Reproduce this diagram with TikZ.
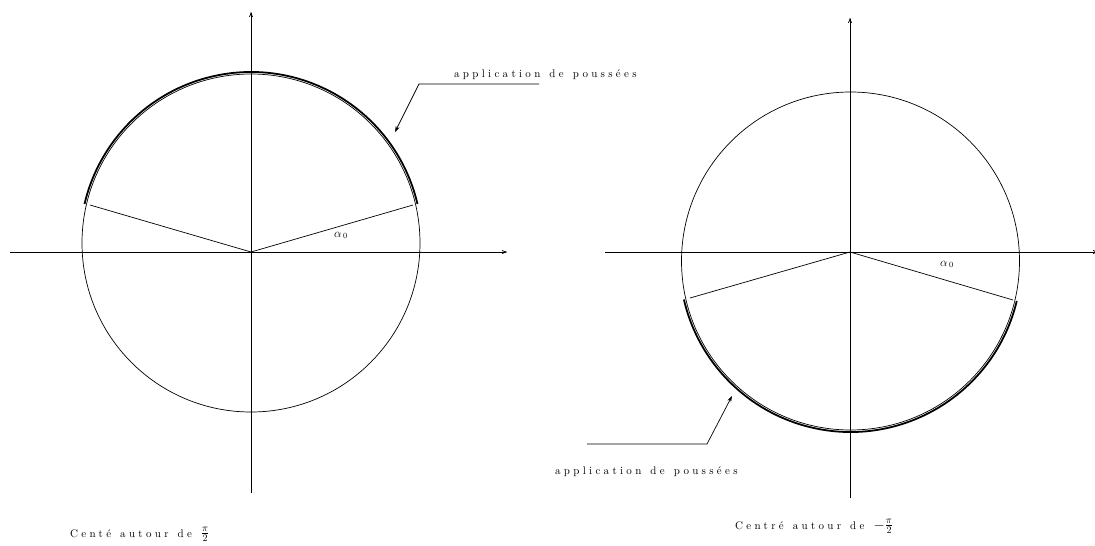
\documentclass[tikz,border=0pt]{standalone}
\usepackage{fontspec}
\newfontfamily\spfont{lmroman10-regular}[Extension=.otf,LetterSpace=30,WordSpace=1.3]
\usetikzlibrary{arrows.meta}
\tikzset{
  axis/.style={line width=0.7pt,-{To[length=5pt,width=4pt]}},
  thin/.style={line width=0.7pt},
  thickarc/.style={line width=1.8pt},
  lbl/.style={inner sep=0pt,font=\spfont\fontsize{11}{13}\selectfont},
  leader/.style={line width=0.7pt,-{Stealth[length=6pt,width=4pt]}}
}
\newcommand\bigfrac[1]{{\fontsize{14}{16}\selectfont$#1$}}
\begin{document}
\begin{tikzpicture}[x=1pt,y=-1pt]
\useasboundingbox (0,0) rectangle (1095,546);
% ---------- left diagram ----------
\coordinate (O1) at (251,252);
\coordinate (C1) at (251,243);
\draw[thin] (C1) circle (169);
\draw[thickarc] ([shift={(-13.2:171)}]C1) arc[start angle=-13.2,end angle=-166.8,radius=171];
\coordinate (P1r) at (413,205);
\coordinate (P1l) at (90,205);
\draw[thin] (P1l) -- (O1) -- (P1r);
\coordinate (X1a) at (10,252);
\coordinate (X1b) at (507,252);
\coordinate (Y1a) at (251,493);
\coordinate (Y1b) at (251,12);
\draw[axis] (X1a) -- (X1b);
\draw[axis] (Y1a) -- (Y1b);
\node[lbl,anchor=base west,font=\fontsize{12}{14}\selectfont] (a1) at (334,237) {$\alpha_{\,0}$};
\node[lbl,anchor=base west] (t1) at (454,77) {application de poussées};
\coordinate (L1a) at (539,84);
\coordinate (L1b) at (419,84);
\coordinate (L1c) at (395,132);
\draw[leader] (L1a) -- (L1b) -- (L1c);
\node[lbl,anchor=base west] (c1) at (70,537) {Centé autour de \bigfrac{\frac{\pi}{2}}};
% ---------- right diagram ----------
\coordinate (O2) at (850,252);
\coordinate (C2) at (850.5,261);
\draw[thin] (C2) circle (169);
\draw[thickarc] ([shift={(13.5:171)}]C2) arc[start angle=13.5,end angle=167,radius=171];
\coordinate (P2r) at (1013,300);
\coordinate (P2l) at (690,298);
\draw[thin] (P2l) -- (O2) -- (P2r);
\coordinate (X2a) at (605,252);
\coordinate (X2b) at (1098,252);
\coordinate (Y2a) at (850,498);
\coordinate (Y2b) at (850,18);
\draw[axis] (X2a) -- (X2b);
\draw[axis] (Y2a) -- (Y2b);
\node[lbl,anchor=base west,font=\fontsize{12}{14}\selectfont] (a2) at (940,266) {$\alpha_{\,0}$};
\node[lbl,anchor=base west] (t2) at (555,474) {application de poussées};
\coordinate (L2a) at (587,444);
\coordinate (L2b) at (707,444);
\coordinate (L2c) at (732,396);
\draw[leader] (L2a) -- (L2b) -- (L2c);
\node[lbl,anchor=base west] (c2) at (735,529) {Centré autour de \bigfrac{-\frac{\pi}{2}}};
\end{tikzpicture}
\end{document}
